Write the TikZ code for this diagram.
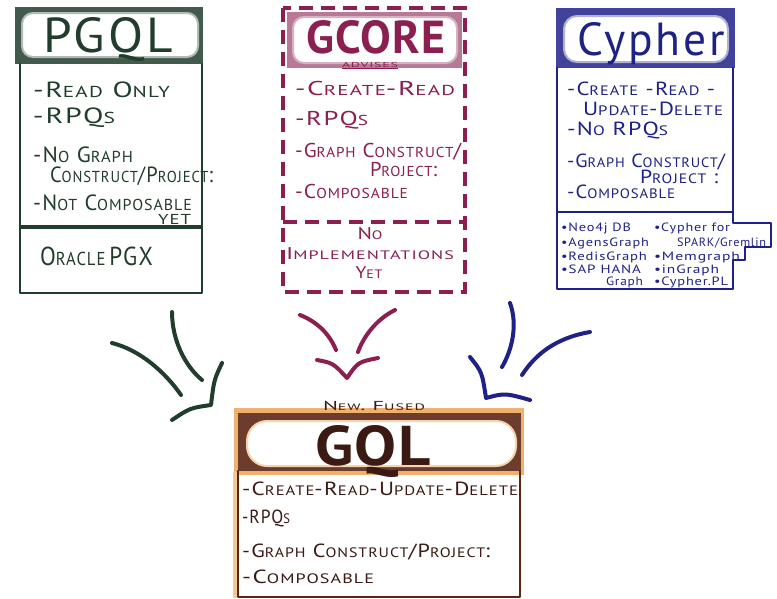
\documentclass[tikz,border=0pt]{standalone}
\usepackage{fontspec}
\setmainfont{PT Sans}
\newfontfamily\hand[LetterSpace=6]{PT Sans}
\newfontfamily\handb[LetterSpace=2]{PT Sans Bold}
\usepackage{graphicx}
\makeatletter
\newcommand\lowc[1]{{\fontsize{\strip@pt\dimexpr\f@size pt*72/100\relax}{1}\selectfont #1}}
\makeatother
\newcommand\fitw[2]{\resizebox{#1pt}{\height}{#2}}
\definecolor{pg}{HTML}{213D2B}
\definecolor{gc}{HTML}{8A1F50}
\definecolor{cy}{HTML}{1E2287}
\definecolor{gq}{HTML}{3A1A12}
\definecolor{gqf}{HTML}{5C2616}
\definecolor{gqo}{HTML}{E8902E}
\tikzset{
  ln/.style={anchor=base west, inner sep=0pt, outer sep=0pt, font=\hand\fontsize{#1}{#1}\selectfont},
  ln/.default=19,
  lnc/.style={anchor=base, inner sep=0pt, outer sep=0pt, font=\hand\fontsize{#1}{#1}\selectfont},
  lnc/.default=19,
  ttl/.style={anchor=base, inner sep=0pt, outer sep=0pt, font=\hand\fontsize{50}{50}\selectfont},
  ttlb/.style={ttl, font=\handb\fontsize{50}{50}\selectfont},
  edge/.style={line width=2.4pt, line join=round, line cap=round},
  dashedge/.style={line width=3.6pt, dash pattern=on 14pt off 8pt},
  stroke/.style={line width=4pt, line cap=round, line join=round},
}
\begin{document}
\begin{tikzpicture}[x=1pt,y=-1pt]
\useasboundingbox (0,0) rectangle (777,598);
\fill[white] (0,0) rectangle (777,598);

% ---------------- PGQL box ----------------
\fill[pg!85] (15,7) rectangle (203,64);
\fill[white,draw=pg!35,line width=2pt,rounded corners=11pt] (22,13) rectangle (198,57);
\draw[edge,pg] (20,64) -- (20,293) -- (202,293) -- (202,64);
\draw[pg,line width=4pt] (20,227) -- (202,227);
\node[ttl,text=pg] (pgqlT) at (108,52) {\resizebox{130pt}{35pt}{PGQL}};
\node[ln=22,text=pg] (p1) at (33,97) {\fitw{137}{-R\lowc{EAD} O\lowc{NLY}}};
\node[ln=22,text=pg] (p2) at (33,123) {\fitw{82}{-RPQ\lowc{S}}};
\node[ln=22,text=pg] (p3) at (33,162) {\fitw{100}{-N\lowc{O} G\lowc{RAPH}}};
\node[ln=22,text=pg] (p4) at (50,182) {\fitw{163}{C\lowc{ONSTRUCT}/P\lowc{ROJECT}:}};
\node[ln=22,text=pg] (p5) at (33,210) {\fitw{159}{-N\lowc{OT} C\lowc{OMPOSABLE}}};
\node[ln=20,text=pg] (p6) at (158,224) {\fitw{33}{\lowc{YET}}};
\node[ln=26,text=pg] (p7) at (40,265) {\fitw{113}{O\lowc{RACLE}\,PGX}};

% ---------------- GCORE box ----------------
\fill[gc!60] (287,12) rectangle (462,68);
\fill[white,draw=gc!35,line width=2pt,rounded corners=11pt] (293,17) rectangle (457,63);
\draw[dashedge,gc] (283,8) rectangle (465,292);
\draw[dashedge,gc] (283,222) -- (465,222);
\node[ttlb,text=gc] (gcoreT) at (376,53) {\resizebox{138pt}{33pt}{GCORE}};
\node[lnc=10,text=gc] (adv) at (370,67) {\fitw{56}{\lowc{ADVISES}}};
\draw[gc,line width=1pt] ([yshift=-1.5pt]adv.south west) -- ([yshift=-1.5pt]adv.south east);
\node[ln=20,text=gc] (c1) at (295,95) {\fitw{160}{-C\lowc{REATE}-R\lowc{EAD}}};
\node[ln=20,text=gc] (c2) at (295,125) {\fitw{73}{-RPQ\lowc{S}}};
\node[ln=20,text=gc] (c3) at (295,157) {\fitw{166}{-G\lowc{RAPH} C\lowc{ONSTRUCT}/}};
\node[ln=20,text=gc] (c4) at (370,176) {\fitw{67}{P\lowc{ROJECT}:}};
\node[ln=20,text=gc] (c5) at (295,198) {\fitw{113}{-C\lowc{OMPOSABLE}}};
\node[lnc=17,text=gc] (c6) at (370,239) {\fitw{25}{N\lowc{O}}};
\node[ln=17,text=gc] (c7) at (286,259) {\fitw{168}{I\lowc{MPLEMENTATIONS}}};
\node[lnc=17,text=gc] (c8) at (369,278) {\fitw{27}{Y\lowc{ET}}};

% ---------------- Cypher box ----------------
\fill[cy!85] (556,8) rectangle (735,68);
\fill[white,draw=cy!35,line width=2pt,rounded corners=13pt] (564,16) rectangle (728,62);
\draw[edge,cy] (557,68) -- (557,289) -- (733,289) -- (733,260) -- (745,260) -- (745,247)
  -- (771,247) -- (771,223) -- (733,223) -- (733,68);
\draw[edge,cy] (557,212) -- (733,212);
\node[ttl,text=cy] (cypherT) at (651,55) {\resizebox{147pt}{33pt}{Cypher}};
\node[ln,text=cy] (y1) at (567,95) {\fitw{148}{-C\lowc{REATE} -R\lowc{EAD} -}};
\node[ln,text=cy] (y2) at (583,115) {\fitw{140}{U\lowc{PDATE}-D\lowc{ELETE}}};
\node[ln,text=cy] (y3) at (567,135) {\fitw{101}{-N\lowc{O} RPQ\lowc{S}}};
\node[ln,text=cy] (y4) at (567,167) {\fitw{158}{-G\lowc{RAPH} C\lowc{ONSTRUCT}/}};
\node[ln,text=cy] (y5) at (640,183) {\fitw{78}{P\lowc{ROJECT} :}};
\node[ln,text=cy] (y6) at (567,198) {\fitw{108}{-C\lowc{OMPOSABLE}}};
\node[ln=12,text=cy] (k1) at (561,231) {\fitw{70}{\textbullet Neo4j DB}};
\node[ln=12,text=cy] (k2) at (561,246) {\fitw{88}{\textbullet AgensGraph}};
\node[ln=12,text=cy] (k3) at (561,260) {\fitw{86}{\textbullet RedisGraph}};
\node[ln=12,text=cy] (k4) at (561,273) {\fitw{80}{\textbullet SAP HANA}};
\node[ln=12,text=cy] (k5) at (606,285) {\fitw{37}{Graph}};
\node[ln=12,text=cy] (k6) at (654,231) {\fitw{76}{\textbullet Cypher for}};
\node[ln=12,text=cy] (k7) at (677,246) {\fitw{89}{SPARK/Gremlin}};
\node[ln=12,text=cy] (k8) at (654,260) {\fitw{86}{\textbullet Memgraph}};
\node[ln=12,text=cy] (k9) at (654,273) {\fitw{65}{\textbullet inGraph}};
\node[ln=12,text=cy] (k10) at (654,285) {\fitw{74}{\textbullet Cypher.PL}};

% ---------------- GQL box ----------------
\fill[gqo!70] (234,408) rectangle (524,475);
\fill[gqf!90] (238,413) rectangle (521,471);
\fill[white,draw=gqo!40,line width=2pt,rounded corners=20pt] (247,421) rectangle (516,466);
\draw[gqo!50,line width=4pt] (235,472) -- (235,598);
\draw[edge,gqf] (238,471) -- (238,597) -- (520,597) -- (520,471);
\node[lnc=13,text=gq] (fused) at (374,410) {\fitw{102}{N\lowc{EW}. F\lowc{USED}}};
\node[ttlb,text=gq] (gqlT) at (373,465) {\resizebox{115pt}{40pt}{GQL}};
\node[ln,text=gq] (q1) at (242,495) {\fitw{276}{-C\lowc{REATE}-R\lowc{EAD}-U\lowc{PDATE}-D\lowc{ELETE}}};
\node[ln,text=gq] (q2) at (242,523) {\fitw{48}{-RPQ\lowc{S}}};
\node[ln,text=gq] (q3) at (242,557) {\fitw{248}{-G\lowc{RAPH} C\lowc{ONSTRUCT}/P\lowc{ROJECT}:}};
\node[ln,text=gq] (q4) at (242,583) {\fitw{132}{-C\lowc{OMPOSABLE}}};

% ---------------- arrows ----------------
\coordinate (ga1) at (112,343); \coordinate (gb1) at (181,395);
\coordinate (ga2) at (172,312); \coordinate (gb2) at (202,380);
\coordinate (gh1) at (222,363); \coordinate (gh2) at (211,405); \coordinate (gh3) at (172,420);
\draw[stroke,pg] (ga1) .. controls (140,350) and (165,372) .. (gb1);
\draw[stroke,pg] (ga2) .. controls (172,340) and (185,366) .. (gb2);
\draw[stroke,pg] (gh1) .. controls (214,380) .. (gh2) .. controls (190,408) .. (gh3);

\coordinate (ma1) at (300,315); \coordinate (mb1) at (336,350);
\coordinate (ma2) at (395,310); \coordinate (mb2) at (358,352);
\coordinate (mh1) at (317,360); \coordinate (mh2) at (347,378); \coordinate (mh3) at (378,358);
\draw[stroke,gc] (ma1) .. controls (318,322) and (330,335) .. (mb1);
\draw[stroke,gc] (ma2) .. controls (375,320) and (363,338) .. (mb2);
\draw[stroke,gc] (mh1) .. controls (333,363) .. (mh2) .. controls (358,362) .. (mh3);

\coordinate (ba1) at (510,303); \coordinate (bb1) at (502,367);
\coordinate (ba2) at (590,332); \coordinate (bb2) at (522,375);
\coordinate (bh1) at (470,357); \coordinate (bh2) at (486,398); \coordinate (bh3) at (530,400);
\draw[stroke,cy] (ba1) .. controls (518,325) and (512,350) .. (bb1);
\draw[stroke,cy] (ba2) .. controls (555,338) and (535,355) .. (bb2);
\draw[stroke,cy] (bh1) .. controls (482,372) .. (bh2) .. controls (505,393) .. (bh3);
\end{tikzpicture}
\end{document}
